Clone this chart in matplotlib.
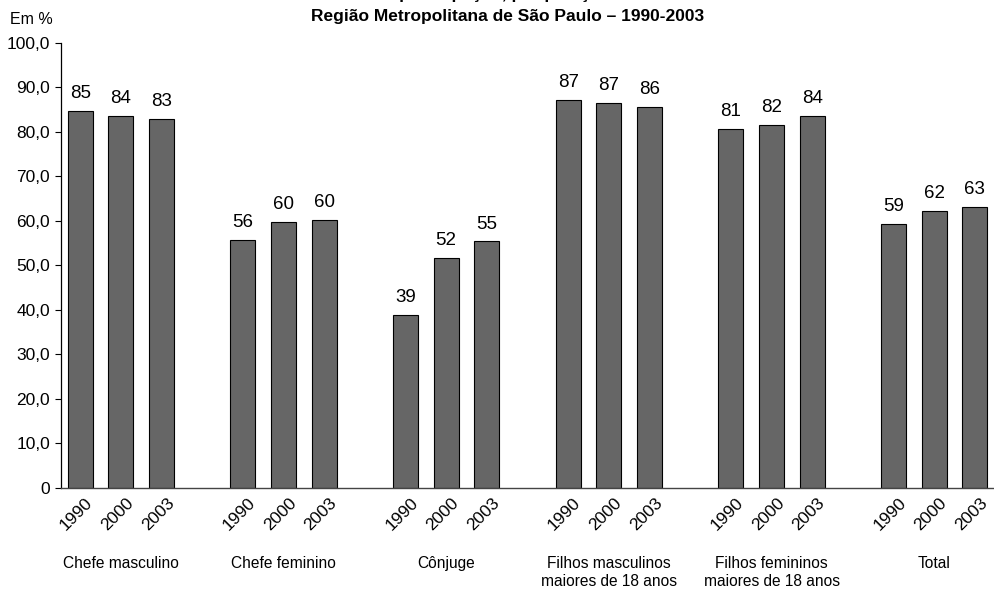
import matplotlib.pyplot as plt

plt.rcParams['font.family'] = ['Liberation Sans', 'DejaVu Sans']

# groups and years
categories = ["Chefe masculino", "Chefe feminino", "Cônjuge",
              "Filhos masculinos\nmaiores de 18 anos",
              "Filhos femininos\nmaiores de 18 anos", "Total"]
years = ["1990", "2000", "2003"]

# taxas por grupo, na ordem dos anos
chefe_masc = [84.8, 83.7, 82.9]
chefe_fem = [55.8, 59.7, 60.3]
conjuge = [38.8, 51.7, 55.4]
filhos_masc = [87.2, 86.6, 85.7]
filhos_fem = [80.6, 81.5, 83.7]
total = [59.4, 62.2, 63.2]

y_ticks = [0, 10, 20, 30, 40, 50, 60, 70, 80, 90, 100]
y_ticklabels = ["0", "10,0", "20,0", "30,0", "40,0", "50,0", "60,0",
                "70,0", "80,0", "90,0", "100,0"]

series = [chefe_masc, chefe_fem, conjuge, filhos_masc, filhos_fem, total]

fig = plt.figure(figsize=(9.94, 5.89), dpi=100)
ax = fig.add_axes([0.0614, 0.1715, 0.9386, 0.7555])

xs, hs, labs = [], [], []
for g, vals in enumerate(series):
    for i, v in enumerate(vals):
        xs.append(g * 4 + i)
        hs.append(v)
        labs.append(years[i])

ax.bar(xs, hs, width=0.61, color='#666666', edgecolor='black', linewidth=0.8)
for x, h in zip(xs, hs):
    ax.text(x, h + 2.0, f"{round(h)}", ha='center', va='bottom', fontsize=13.5)

ax.set_xlim(-0.47, 22.47)
ax.set_ylim(0, 100)
ax.set_yticks(y_ticks)
ax.set_yticklabels(y_ticklabels, fontsize=12.5)
ax.set_xticks([x + 0.12 for x in xs])
ax.set_xticklabels(labs, rotation=45, ha='right', rotation_mode='anchor',
                   fontsize=12.5)
ax.tick_params(axis='x', length=0, pad=5)
ax.tick_params(axis='y', length=4, width=0.8, direction='out', pad=4)

for s in ['top', 'right']:
    ax.spines[s].set_visible(False)
ax.spines['left'].set_linewidth(0.9)
ax.spines['bottom'].set_color('#444444')
ax.spines['bottom'].set_linewidth(1.0)

# nomes dos grupos
for g, name in enumerate(categories):
    ax.text(g * 4 + 1, -15.3, name, ha='center', va='top', fontsize=11.2,
            linespacing=1.25)

# primeira linha do titulo aparece cortada no original
fig.text(0.511, 1.0 + 0.5 / 589, "Taxas de participação, por posição na família",
         ha='center', va='baseline', fontsize=12.5, fontweight='bold')
fig.text(0.511, 1.0 - 17 / 589, "Região Metropolitana de São Paulo – 1990-2003",
         ha='center', va='center', fontsize=12.5, fontweight='bold')
fig.text(0.010, 1.0 - 20 / 589, "Em %", ha='left', va='center', fontsize=11.5)

fig.savefig("out.png", dpi=100)
